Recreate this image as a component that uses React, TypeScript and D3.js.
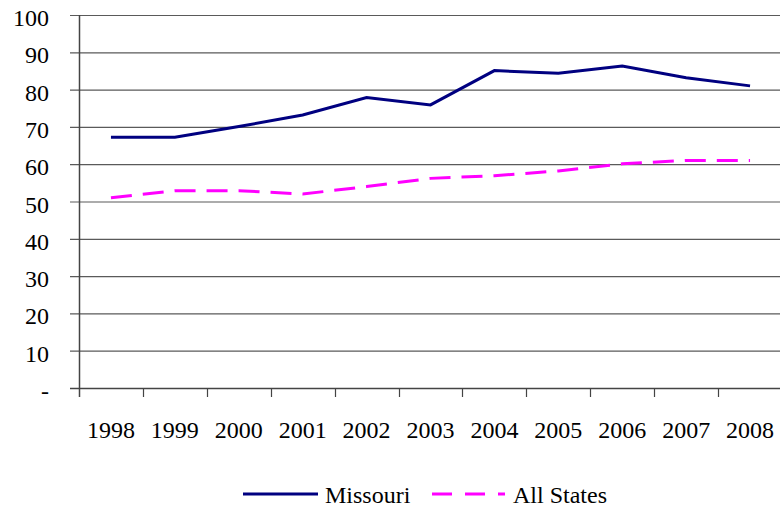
import React, {useRef, useEffect} from 'react';
import * as d3 from 'd3';

const years = ['1998', '1999', '2000', '2001', '2002', '2003', '2004', '2005', '2006', '2007', '2008'];
const missouri = [67.2, 67.2, 70.1, 73.2, 77.9, 75.9, 85.1, 84.4, 86.3, 83.2, 81.0];
const allStates = [51.0, 52.9, 52.9, 52.0, 54.0, 56.2, 56.9, 58.2, 60.1, 61.0, 61.0];
const yTicks = [0, 10, 20, 30, 40, 50, 60, 70, 80, 90, 100];

const width = 780, height = 510;
const FONT = "'Liberation Serif', Tinos, 'Times New Roman', Times, 'DejaVu Serif', serif";

const App = () => {
    const svgRef = useRef<SVGSVGElement>(null);

    useEffect(() => {
        const svg = d3.select(svgRef.current);
        svg.selectAll('*').remove();

        const x = d3.scaleBand().domain(years).range([79, 782]);
        const y = d3.scaleLinear().domain([0, 100]).range([388, 15]);

        // gridlines
        svg.append('g').selectAll('line')
            .data(yTicks.filter(d => d > 0))
            .join('line')
            .attr('x1', 70)
            .attr('x2', width)
            .attr('y1', d => y(d) + 0.5)
            .attr('y2', d => y(d) + 0.5)
            .attr('stroke', '#5a5a5a')
            .attr('stroke-width', 1.2);

        // y labels
        svg.append('g').selectAll('text')
            .data(yTicks)
            .join('text')
            .attr('x', 49)
            .attr('y', d => y(d) + 11)
            .attr('text-anchor', 'end')
            .style('font-family', FONT)
            .style('font-size', '24px')
            .attr('fill', '#000')
            .text(d => d === 0 ? '-' : String(d));

        // axes
        svg.append('line')
            .attr('x1', 79.5).attr('x2', 79.5)
            .attr('y1', y(100)).attr('y2', y(0) + 9)
            .attr('stroke', '#444').attr('stroke-width', 1.5);
        svg.append('line')
            .attr('x1', 70).attr('x2', width)
            .attr('y1', y(0) + 0.5).attr('y2', y(0) + 0.5)
            .attr('stroke', '#444').attr('stroke-width', 1.5);

        // x ticks between categories
        svg.append('g').selectAll('line')
            .data(years.slice(1))
            .join('line')
            .attr('x1', d => Math.round(x(d)!) + 0.5)
            .attr('x2', d => Math.round(x(d)!) + 0.5)
            .attr('y1', y(0))
            .attr('y2', y(0) + 9)
            .attr('stroke', '#444')
            .attr('stroke-width', 1.2);

        // x labels
        svg.append('g').selectAll('text')
            .data(years)
            .join('text')
            .attr('x', d => x(d)! + x.bandwidth() / 2)
            .attr('y', 438)
            .attr('text-anchor', 'middle')
            .style('font-family', FONT)
            .style('font-size', '24px')
            .attr('fill', '#000')
            .text(d => d);

        const cx = (i: number) => x(years[i])! + x.bandwidth() / 2;
        const line = d3.line<number>().x((d, i) => cx(i)).y(d => y(d));

        svg.append('path')
            .datum(allStates)
            .attr('d', line)
            .attr('fill', 'none')
            .attr('stroke', '#ff00ff')
            .attr('stroke-width', 3)
            .attr('stroke-dasharray', '21,11');

        svg.append('path')
            .datum(missouri)
            .attr('d', line)
            .attr('fill', 'none')
            .attr('stroke', '#000080')
            .attr('stroke-width', 3);

        // legend
        const legend = svg.append('g');
        legend.append('line')
            .attr('x1', 243).attr('x2', 318).attr('y1', 494).attr('y2', 494)
            .attr('stroke', '#000080').attr('stroke-width', 3);
        legend.append('text')
            .attr('x', 325).attr('y', 503)
            .style('font-family', FONT).style('font-size', '24px')
            .text('Missouri');
        legend.append('line')
            .attr('x1', 432).attr('x2', 505).attr('y1', 494).attr('y2', 494)
            .attr('stroke', '#ff00ff').attr('stroke-width', 3)
            .attr('stroke-dasharray', '20,13');
        legend.append('text')
            .attr('x', 513).attr('y', 503)
            .style('font-family', FONT).style('font-size', '24px')
            .text('All States');
    }, []);

    return (
        <svg ref={svgRef} width={width} height={height}
             style={{position: 'absolute', left: 0, top: 0, background: '#fff'}}/>
    );
};

export default App;
